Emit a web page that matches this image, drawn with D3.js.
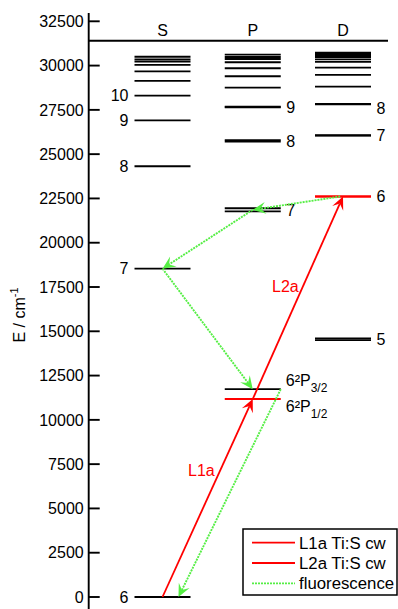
<!DOCTYPE html>
<html>
<head>
<meta charset="utf-8">
<script src="https://cdn.jsdelivr.net/npm/d3@7"></script>
<style>
  html, body { margin: 0; padding: 0; background: #fff; }
  svg { display: block; font-family: "Liberation Sans", Arial, sans-serif; }
</style>
</head>
<body>
<svg id="chart" width="398" height="609"></svg>
<script>
// Cs term scheme: level energies (cm^-1) per series
const columns = ["S", "P", "D"];
const sLevels = [0, 18535, 24317, 26911, 28300, 29132, 29669, 30035, 30230, 30350, 30500];
const pLevels = [11732, 21765, 21946, 25709, 25791, 27637, 27681, 28759, 29397, 29849, 30187, 30373, 30486, 30620];
const dLevels = [14499, 14597, 26047, 26068, 27811, 27836, 28816, 29470, 29888, 30204, 30356, 30486, 30560, 30621, 30680, 30734];
// levels reached by the lasers
const pumpedLevels = [{ col: "P", E: 11178 }, { col: "D", E: 22589 }, { col: "D", E: 22631 }];
const ionLimit = 31406;

const sLabels = [{ t: "6", E: 0 }, { t: "7", E: 18535 }, { t: "8", E: 24317 }, { t: "9", E: 26911 }, { t: "10", E: 28300 }];
const pLabels = [{ t: "7", E: 21856 }, { t: "8", E: 25750 }, { t: "9", E: 27659 }];
const dLabels = [{ t: "5", E: 14548 }, { t: "6", E: 22610 }, { t: "7", E: 26058 }, { t: "8", E: 27600 }];

const yTicks = [0, 2500, 5000, 7500, 10000, 12500, 15000, 17500, 20000, 22500, 25000, 27500, 30000, 32500];

// excitation steps and fluorescence cascade: [fromCol, fromE, toCol, toE]
const laserSteps = [
  { name: "L1a", from: ["S", 0], to: ["P", 11178] },
  { name: "L2a", from: ["P", 11178], to: ["D", 22610] }
];
const fluorescence = [
  { from: ["D", 22610], to: ["P", 21856] },
  { from: ["P", 21856], to: ["S", 18535] },
  { from: ["S", 18535], to: ["P", 11732] },
  { from: ["P", 11732], to: ["S", 0] }
];
const legendItems = ["L1a Ti:S cw", "L2a Ti:S cw", "fluorescence"];

const RED = "#ff0000", GREEN = "#55ee44";
const svg = d3.select("#chart");

const y = d3.scaleLinear().domain([0, 32500]).range([597, 21.3]);
const x = d3.scalePoint().domain(columns).range([162.5, 343]);
const half = 28;
const axisX = 88.7;

// y axis with inward ticks
const axis = svg.append("g").attr("transform", `translate(${axisX},0)`);
axis.append("line").attr("x1", 0).attr("x2", 0).attr("y1", 13).attr("y2", 609)
  .attr("stroke", "#000").attr("stroke-width", 1.9);
axis.selectAll("line.tick").data(yTicks).join("line").attr("class", "tick")
  .attr("x1", 0).attr("x2", 11).attr("y1", d => y(d)).attr("y2", d => y(d))
  .attr("stroke", "#000").attr("stroke-width", 1.9);
axis.selectAll("text").data(yTicks).join("text")
  .attr("x", -5).attr("y", d => y(d)).attr("dy", "0.36em")
  .attr("text-anchor", "end").attr("font-size", 16).text(d => d);

const title = svg.append("text").attr("transform", "translate(25,315) rotate(-90)")
  .attr("text-anchor", "middle").attr("font-size", 16);
title.append("tspan").text("E / cm");
title.append("tspan").attr("font-size", 11).attr("dy", -7).text("-1");

// ionisation limit and series headers
svg.append("line").attr("x1", axisX).attr("x2", 388).attr("y1", y(ionLimit)).attr("y2", y(ionLimit))
  .attr("stroke", "#000").attr("stroke-width", 1.9);
svg.selectAll("text.head").data(columns).join("text").attr("class", "head")
  .attr("x", d => x(d)).attr("y", 36).attr("text-anchor", "middle").attr("font-size", 16).text(d => d);

// energy levels
const levelRows = [
  ...sLevels.map(E => ({ col: "S", E, c: "#000" })),
  ...pLevels.map(E => ({ col: "P", E, c: "#000" })),
  ...dLevels.map(E => ({ col: "D", E, c: "#000" })),
  ...pumpedLevels.map(d => ({ col: d.col, E: d.E, c: RED }))
];
svg.append("g").selectAll("line").data(levelRows).join("line")
  .attr("x1", d => x(d.col) - half).attr("x2", d => x(d.col) + half)
  .attr("y1", d => y(d.E)).attr("y2", d => y(d.E))
  .attr("stroke", d => d.c).attr("stroke-width", 1.8);

// level labels
svg.append("g").selectAll("text").data(sLabels).join("text")
  .attr("x", x("S") - half - 6).attr("y", d => y(d.E)).attr("dy", "0.36em")
  .attr("text-anchor", "end").attr("font-size", 16).text(d => d.t);
svg.append("g").selectAll("text").data(pLabels).join("text")
  .attr("x", x("P") + half + 5.5).attr("y", d => y(d.E)).attr("dy", "0.36em")
  .attr("font-size", 16).text(d => d.t);
svg.append("g").selectAll("text").data(dLabels).join("text")
  .attr("x", x("D") + half + 5.5).attr("y", d => y(d.E)).attr("dy", "0.36em")
  .attr("font-size", 16).text(d => d.t);

function termLabel(E, sub, dy) {
  const t = svg.append("text").attr("x", x("P") + half + 5).attr("y", y(E) + dy).attr("font-size", 16);
  t.append("tspan").text("6²P");
  t.append("tspan").attr("font-size", 12).attr("dy", 6).text(sub);
}
termLabel(11732, "3/2", -3);
termLabel(11178, "1/2", 13);

// arrows with notched heads
function arrow(g, x1, y1, x2, y2, color, dashed) {
  const dx = x2 - x1, dy = y2 - y1, len = Math.hypot(dx, dy);
  const ux = dx / len, uy = dy / len, nx = -uy, ny = ux;
  const L = 13, W = 6;
  const notchX = x2 - ux * L * 0.6, notchY = y2 - uy * L * 0.6;
  g.append("line").attr("x1", x1).attr("y1", y1).attr("x2", notchX).attr("y2", notchY)
    .attr("stroke", color).attr("stroke-width", dashed ? 1.9 : 1.8)
    .attr("stroke-dasharray", dashed ? "2,1" : null);
  const pts = [
    [x2, y2],
    [x2 - ux * L + nx * W, y2 - uy * L + ny * W],
    [notchX, notchY],
    [x2 - ux * L - nx * W, y2 - uy * L - ny * W]
  ];
  g.append("path").attr("d", "M" + pts.map(p => p.join(",")).join("L") + "Z").attr("fill", color);
}

const arrows = svg.append("g");
// horizontal attachment points within a level (fraction of half-width from centre)
const laserOffsets = [[0, 0], [0, 0]];
laserSteps.forEach((s, i) => {
  const o = laserOffsets[i];
  arrow(arrows, x(s.from[0]) + o[0] * half, y(s.from[1]), x(s.to[0]) + o[1] * half, y(s.to[1]), RED, false);
});
const fluoOffsets = [[-0.1, 0], [0, 0], [0, 0], [1, 0.57]];
fluorescence.forEach((s, i) => {
  const o = fluoOffsets[i];
  arrow(arrows, x(s.from[0]) + o[0] * half, y(s.from[1]), x(s.to[0]) + o[1] * half, y(s.to[1]), GREEN, true);
});

svg.append("text").attr("x", 188).attr("y", 476).attr("fill", RED).attr("font-size", 16).text(laserSteps[0].name);
svg.append("text").attr("x", 272).attr("y", 292).attr("fill", RED).attr("font-size", 16).text(laserSteps[1].name);

// legend
const lg = svg.append("g");
lg.append("rect").attr("x", 243).attr("y", 529).attr("width", 154).attr("height", 66)
  .attr("fill", "#fff").attr("stroke", "#000").attr("stroke-width", 1.5);
const legendColors = [RED, RED, GREEN];
legendItems.forEach((t, i) => {
  const ly = 542.7 + i * 20.3;
  lg.append("line").attr("x1", 252).attr("x2", 295).attr("y1", ly).attr("y2", ly)
    .attr("stroke", legendColors[i]).attr("stroke-width", 1.8)
    .attr("stroke-dasharray", i === 2 ? "2,1" : null);
  lg.append("text").attr("x", 299).attr("y", ly).attr("dy", "0.36em").attr("font-size", 16.8).text(t);
});
</script>
</body>
</html>
